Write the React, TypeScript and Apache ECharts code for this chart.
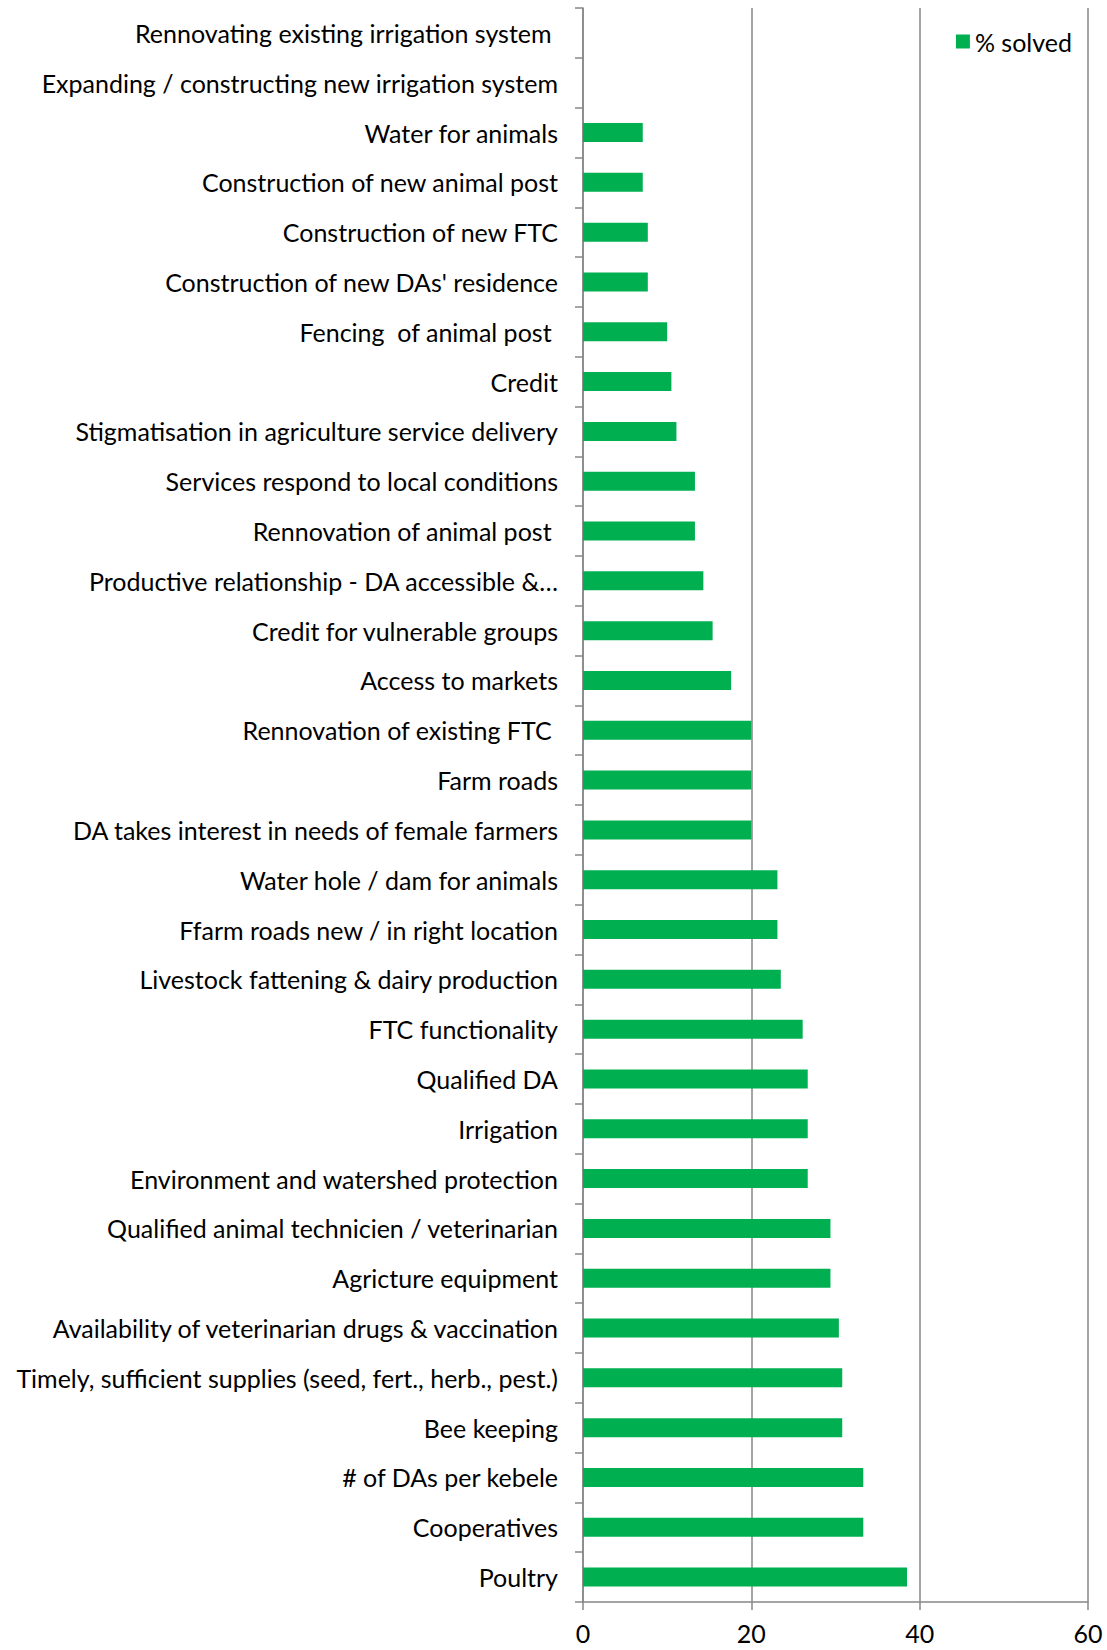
import React, { useEffect, useRef } from "react";
import * as echarts from "echarts";

const categories = [
  "Rennovating existing irrigation system ",
  "Expanding / constructing new irrigation system",
  "Water for animals",
  "Construction of new animal post",
  "Construction of new FTC",
  "Construction of new DAs' residence",
  "Fencing  of animal post ",
  "Credit",
  "Stigmatisation in agriculture service delivery",
  "Services respond to local conditions",
  "Rennovation of animal post ",
  "Productive relationship - DA accessible &…",
  "Credit for vulnerable groups",
  "Access to markets",
  "Rennovation of existing FTC ",
  "Farm roads",
  "DA takes interest in needs of female farmers",
  "Water hole / dam for animals",
  "Ffarm roads new / in right location",
  "Livestock fattening & dairy production",
  "FTC functionality",
  "Qualified DA",
  "Irrigation",
  "Environment and watershed protection",
  "Qualified animal technicien / veterinarian",
  "Agricture equipment",
  "Availability of veterinarian drugs & vaccination",
  "Timely, sufficient supplies (seed, fert., herb., pest.)",
  "Bee keeping",
  "# of DAs per kebele",
  "Cooperatives",
  "Poultry",
];

const solved = [
  0, 0, 7.1, 7.1, 7.7, 7.7, 10, 10.5, 11.1, 13.3, 13.3, 14.3, 15.4, 17.6, 20, 20,
  20, 23.1, 23.1, 23.5, 26.1, 26.7, 26.7, 26.7, 29.4, 29.4, 30.4, 30.8, 30.8, 33.3,
  33.3, 38.5,
];

const xTicks = { min: 0, max: 60, interval: 20 };

const FONT = "Lato";
const GRAY = "#878787";

export default function App() {
  const ref = useRef<HTMLDivElement>(null);
  useEffect(() => {
    const chart = echarts.init(ref.current!, null, { renderer: "svg" });
    chart.setOption({
      animation: false,
      backgroundColor: "#ffffff",
      textStyle: { fontFamily: FONT },
      legend: {
        data: [{ name: "% solved", icon: "rect" }],
        right: 30,
        top: 24,
        itemWidth: 14,
        itemHeight: 14,
        itemGap: 6,
        textStyle: { fontSize: 25, color: "#000", fontFamily: FONT },
      },
      grid: { left: 583, right: 19, top: 8, bottom: 48, containLabel: false },
      xAxis: {
        type: "value",
        min: xTicks.min,
        max: xTicks.max,
        interval: xTicks.interval,
        axisLine: { show: true, lineStyle: { color: GRAY, width: 1.5 } },
        axisTick: { show: true, length: 8, lineStyle: { color: GRAY, width: 1.5 } },
        axisLabel: { fontSize: 25, color: "#000", margin: 18, fontFamily: FONT },
        splitLine: { show: true, lineStyle: { color: GRAY, width: 1.5 } },
      },
      yAxis: {
        type: "category",
        data: categories,
        inverse: true,
        axisLine: { show: true, lineStyle: { color: GRAY, width: 1.5 } },
        axisTick: { show: true, length: 8, lineStyle: { color: GRAY, width: 1.5 } },
        axisLabel: { fontSize: 25, color: "#000", margin: 25, fontFamily: FONT },
        splitLine: { show: false },
      },
      series: [
        {
          name: "% solved",
          type: "bar",
          data: solved,
          barWidth: 19,
          itemStyle: { color: "#00B050" },
        },
      ],
    });
    return () => chart.dispose();
  }, []);
  return (
    <div
      ref={ref}
      style={{ position: "absolute", left: 0, top: 0, width: 1107, height: 1650 }}
    />
  );
}
